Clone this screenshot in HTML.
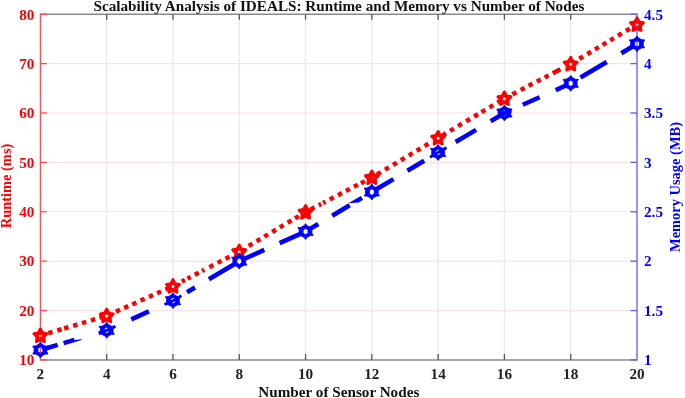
<!DOCTYPE html>
<html><head><meta charset="utf-8"><title>Scalability Analysis of IDEALS</title>
<style>
html,body{margin:0;padding:0;background:#fff;}
body{width:685px;height:398px;overflow:hidden;}
svg{display:block;filter:blur(0.35px);}
text{font-family:"Liberation Serif","Times New Roman",serif;font-weight:bold;}
.tk{font-size:15.2px;}
.lb{font-size:15.2px;}
.yl{font-size:14.45px;}
</style></head><body>
<svg width="685" height="398" viewBox="0 0 685 398">
<rect width="685" height="398" fill="#fff"/>

<g stroke="#eaeaea" stroke-width="1.3">
<line x1="106.69" y1="14.2" x2="106.69" y2="359.95"/>
<line x1="172.98" y1="14.2" x2="172.98" y2="359.95"/>
<line x1="239.27" y1="14.2" x2="239.27" y2="359.95"/>
<line x1="305.56" y1="14.2" x2="305.56" y2="359.95"/>
<line x1="371.84" y1="14.2" x2="371.84" y2="359.95"/>
<line x1="438.13" y1="14.2" x2="438.13" y2="359.95"/>
<line x1="504.42" y1="14.2" x2="504.42" y2="359.95"/>
<line x1="570.71" y1="14.2" x2="570.71" y2="359.95"/>
</g>
<g stroke="#ffe1e1" stroke-width="1.2">
<line x1="40.4" y1="310.56" x2="637.0" y2="310.56"/>
<line x1="40.4" y1="261.16" x2="637.0" y2="261.16"/>
<line x1="40.4" y1="211.77" x2="637.0" y2="211.77"/>
<line x1="40.4" y1="162.38" x2="637.0" y2="162.38"/>
<line x1="40.4" y1="112.99" x2="637.0" y2="112.99"/>
<line x1="40.4" y1="63.59" x2="637.0" y2="63.59"/>
</g>
<g stroke="#8a8a8a" stroke-width="1.6">
<line x1="40.4" y1="14.2" x2="637.0" y2="14.2"/><line x1="40.4" y1="359.95" x2="637.0" y2="359.95"/>
</g>
<g stroke="#555" stroke-width="1.3">
<line x1="106.69" y1="14.2" x2="106.69" y2="19.799999999999997"/><line x1="106.69" y1="359.95" x2="106.69" y2="353.95"/>
<line x1="172.98" y1="14.2" x2="172.98" y2="19.799999999999997"/><line x1="172.98" y1="359.95" x2="172.98" y2="353.95"/>
<line x1="239.27" y1="14.2" x2="239.27" y2="19.799999999999997"/><line x1="239.27" y1="359.95" x2="239.27" y2="353.95"/>
<line x1="305.56" y1="14.2" x2="305.56" y2="19.799999999999997"/><line x1="305.56" y1="359.95" x2="305.56" y2="353.95"/>
<line x1="371.84" y1="14.2" x2="371.84" y2="19.799999999999997"/><line x1="371.84" y1="359.95" x2="371.84" y2="353.95"/>
<line x1="438.13" y1="14.2" x2="438.13" y2="19.799999999999997"/><line x1="438.13" y1="359.95" x2="438.13" y2="353.95"/>
<line x1="504.42" y1="14.2" x2="504.42" y2="19.799999999999997"/><line x1="504.42" y1="359.95" x2="504.42" y2="353.95"/>
<line x1="570.71" y1="14.2" x2="570.71" y2="19.799999999999997"/><line x1="570.71" y1="359.95" x2="570.71" y2="353.95"/>
</g>
<g stroke="#ff4d4d" stroke-width="1.3">
<line x1="40.4" y1="13.6" x2="40.4" y2="360.55"/>
<line x1="40.4" y1="359.95" x2="46.9" y2="359.95"/>
<line x1="40.4" y1="310.56" x2="46.9" y2="310.56"/>
<line x1="40.4" y1="261.16" x2="46.9" y2="261.16"/>
<line x1="40.4" y1="211.77" x2="46.9" y2="211.77"/>
<line x1="40.4" y1="162.38" x2="46.9" y2="162.38"/>
<line x1="40.4" y1="112.99" x2="46.9" y2="112.99"/>
<line x1="40.4" y1="63.59" x2="46.9" y2="63.59"/>
<line x1="40.4" y1="14.20" x2="46.9" y2="14.20"/>
</g>
<g stroke="#5c5cff" stroke-width="1.3">
<line x1="637.0" y1="13.6" x2="637.0" y2="360.55"/>
<line x1="637.0" y1="359.95" x2="630.5" y2="359.95"/>
<line x1="637.0" y1="310.56" x2="630.5" y2="310.56"/>
<line x1="637.0" y1="261.16" x2="630.5" y2="261.16"/>
<line x1="637.0" y1="211.77" x2="630.5" y2="211.77"/>
<line x1="637.0" y1="162.38" x2="630.5" y2="162.38"/>
<line x1="637.0" y1="112.99" x2="630.5" y2="112.99"/>
<line x1="637.0" y1="63.59" x2="630.5" y2="63.59"/>
<line x1="637.0" y1="14.20" x2="630.5" y2="14.20"/>
</g>
<g class="tk" fill="#ff0000" text-anchor="end">
<text x="34.4" y="365.25">10</text>
<text x="34.4" y="315.86">20</text>
<text x="34.4" y="266.46">30</text>
<text x="34.4" y="217.07">40</text>
<text x="34.4" y="167.68">50</text>
<text x="34.4" y="118.29">60</text>
<text x="34.4" y="68.89">70</text>
<text x="34.4" y="19.50">80</text>
</g>
<g class="tk" fill="#0000ff" text-anchor="start">
<text x="644.0" y="365.25">1</text>
<text x="644.0" y="315.86">1.5</text>
<text x="644.0" y="266.46">2</text>
<text x="644.0" y="217.07">2.5</text>
<text x="644.0" y="167.68">3</text>
<text x="644.0" y="118.29">3.5</text>
<text x="644.0" y="68.89">4</text>
<text x="644.0" y="19.50">4.5</text>
</g>
<g class="tk" fill="#222" text-anchor="middle">
<text x="40.40" y="379">2</text>
<text x="106.69" y="379">4</text>
<text x="172.98" y="379">6</text>
<text x="239.27" y="379">8</text>
<text x="305.56" y="379">10</text>
<text x="371.84" y="379">12</text>
<text x="438.13" y="379">14</text>
<text x="504.42" y="379">16</text>
<text x="570.71" y="379">18</text>
<text x="637.00" y="379">20</text>
</g>
<text class="lb" fill="#111" text-anchor="middle" x="338.9" y="10.9">Scalability Analysis of IDEALS: Runtime and Memory vs Number of Nodes</text>
<text class="lb" fill="#111" text-anchor="middle" x="338.8" y="396.6">Number of Sensor Nodes</text>
<text class="yl" fill="#ff0000" text-anchor="middle" transform="translate(10.7,186) rotate(-90)">Runtime (ms)</text>
<text class="yl" fill="#0000ff" text-anchor="middle" transform="translate(680.1,187) rotate(-90)">Memory Usage (MB)</text>
<g stroke="#ff0000" stroke-width="4.5" fill="none">
<line x1="48.24" y1="333.22" x2="52.56" y2="331.93"/>
<line x1="57.34" y1="330.50" x2="61.66" y2="329.22"/>
<line x1="64.14" y1="328.48" x2="68.46" y2="327.19"/>
<line x1="73.14" y1="325.79" x2="77.46" y2="324.51"/>
<line x1="81.94" y1="323.17" x2="86.26" y2="321.89"/>
<line x1="90.94" y1="320.49" x2="95.26" y2="319.20"/>
<line x1="99.44" y1="317.96" x2="103.76" y2="316.67"/>
<line x1="115.95" y1="311.66" x2="120.05" y2="309.82"/>
<line x1="124.15" y1="307.99" x2="128.25" y2="306.16"/>
<line x1="132.35" y1="304.33" x2="136.45" y2="302.49"/>
<line x1="140.55" y1="300.66" x2="144.65" y2="298.82"/>
<line x1="148.95" y1="296.90" x2="153.05" y2="295.07"/>
<line x1="157.05" y1="293.28" x2="161.15" y2="291.45"/>
<line x1="165.35" y1="289.57" x2="169.45" y2="287.74"/>
<line x1="181.80" y1="281.56" x2="185.00" y2="279.89"/>
<line x1="187.50" y1="278.58" x2="190.70" y2="276.92"/>
<line x1="194.81" y1="274.78" x2="198.79" y2="272.69"/>
<line x1="202.05" y1="271.00" x2="204.35" y2="269.80"/>
<line x1="209.41" y1="267.16" x2="213.39" y2="265.08"/>
<line x1="217.61" y1="262.88" x2="221.59" y2="260.80"/>
<line x1="225.51" y1="258.76" x2="229.49" y2="256.68"/>
<line x1="248.67" y1="245.98" x2="252.53" y2="243.68"/>
<line x1="256.57" y1="241.27" x2="260.43" y2="238.97"/>
<line x1="264.27" y1="236.68" x2="268.13" y2="234.38"/>
<line x1="272.17" y1="231.97" x2="276.03" y2="229.67"/>
<line x1="279.77" y1="227.44" x2="283.63" y2="225.14"/>
<line x1="287.67" y1="222.73" x2="291.53" y2="220.43"/>
<line x1="294.97" y1="218.38" x2="298.83" y2="216.08"/>
<line x1="302.77" y1="213.73" x2="306.63" y2="211.43"/>
<line x1="310.61" y1="209.44" x2="314.59" y2="207.36"/>
<line x1="318.76" y1="205.18" x2="321.24" y2="203.89"/>
<line x1="323.06" y1="202.94" x2="325.54" y2="201.65"/>
<line x1="329.81" y1="199.42" x2="333.79" y2="197.34"/>
<line x1="338.01" y1="195.15" x2="341.99" y2="193.07"/>
<line x1="345.91" y1="191.03" x2="349.89" y2="188.94"/>
<line x1="353.91" y1="186.85" x2="357.89" y2="184.77"/>
<line x1="360.91" y1="183.20" x2="364.89" y2="181.12"/>
<line x1="368.71" y1="179.13" x2="372.69" y2="177.05"/>
<line x1="376.97" y1="174.44" x2="380.83" y2="172.14"/>
<line x1="384.97" y1="169.67" x2="388.83" y2="167.37"/>
<line x1="392.97" y1="164.91" x2="396.83" y2="162.60"/>
<line x1="400.87" y1="160.20" x2="404.73" y2="157.89"/>
<line x1="408.77" y1="155.49" x2="412.63" y2="153.18"/>
<line x1="416.67" y1="150.78" x2="420.53" y2="148.47"/>
<line x1="424.57" y1="146.07" x2="428.43" y2="143.76"/>
<line x1="442.17" y1="135.58" x2="446.03" y2="133.27"/>
<line x1="450.07" y1="130.87" x2="453.93" y2="128.56"/>
<line x1="458.07" y1="126.10" x2="461.93" y2="123.80"/>
<line x1="466.17" y1="121.27" x2="470.03" y2="118.97"/>
<line x1="474.17" y1="116.50" x2="478.03" y2="114.20"/>
<line x1="481.47" y1="112.15" x2="485.33" y2="109.85"/>
<line x1="489.47" y1="107.38" x2="493.33" y2="105.08"/>
<line x1="497.37" y1="102.67" x2="501.23" y2="100.37"/>
<line x1="512.41" y1="94.30" x2="516.39" y2="92.22"/>
<line x1="520.71" y1="89.98" x2="524.69" y2="87.89"/>
<line x1="528.61" y1="85.85" x2="532.59" y2="83.77"/>
<line x1="536.81" y1="81.58" x2="540.79" y2="79.50"/>
<line x1="544.71" y1="77.46" x2="548.69" y2="75.38"/>
<line x1="552.79" y1="73.24" x2="560.41" y2="69.26"/>
<line x1="579.27" y1="58.79" x2="583.13" y2="56.49"/>
<line x1="587.27" y1="54.02" x2="591.13" y2="51.72"/>
<line x1="594.97" y1="49.43" x2="598.83" y2="47.13"/>
<line x1="602.57" y1="44.90" x2="606.43" y2="42.60"/>
<line x1="610.17" y1="40.37" x2="614.03" y2="38.07"/>
<line x1="617.97" y1="35.72" x2="621.83" y2="33.42"/>
<line x1="625.97" y1="30.96" x2="629.83" y2="28.65"/>
</g>
<g fill="#ff0000" stroke="#ff0000" stroke-width="3.0" stroke-linejoin="round" fill-rule="evenodd">
<path d="M40.40,329.05 L42.47,333.04 L46.83,333.82 L43.76,337.07 L44.37,341.54 L40.40,339.55 L36.43,341.54 L37.04,337.07 L33.97,333.82 L38.33,333.04Z M40.40,332.15 L42.07,333.61 L43.94,334.78 L43.10,336.85 L42.59,339.03 L40.40,338.85 L38.21,339.03 L37.70,336.85 L36.86,334.78 L38.73,333.61Z"/>
<path d="M106.69,309.30 L108.76,313.28 L113.12,314.06 L110.04,317.31 L110.66,321.78 L106.69,319.80 L102.71,321.78 L103.33,317.31 L100.26,314.06 L104.62,313.28Z M106.69,312.40 L108.36,313.85 L110.23,315.02 L109.39,317.09 L108.88,319.27 L106.69,319.10 L104.50,319.27 L103.99,317.09 L103.15,315.02 L105.02,313.85Z"/>
<path d="M172.98,279.66 L175.05,283.65 L179.41,284.43 L176.33,287.67 L176.95,292.14 L172.98,290.16 L169.00,292.14 L169.62,287.67 L166.55,284.43 L170.90,283.65Z M172.98,282.76 L174.65,284.21 L176.52,285.39 L175.68,287.46 L175.17,289.63 L172.98,289.46 L170.79,289.63 L170.27,287.46 L169.44,285.39 L171.31,284.21Z"/>
<path d="M239.27,245.09 L241.34,249.07 L245.70,249.85 L242.62,253.10 L243.24,257.57 L239.27,255.59 L235.29,257.57 L235.91,253.10 L232.84,249.85 L237.19,249.07Z M239.27,248.19 L240.94,249.64 L242.81,250.81 L241.97,252.88 L241.46,255.06 L239.27,254.89 L237.08,255.06 L236.56,252.88 L235.72,250.81 L237.60,249.64Z"/>
<path d="M305.56,205.57 L307.63,209.56 L311.99,210.34 L308.91,213.58 L309.53,218.05 L305.56,216.07 L301.58,218.05 L302.20,213.58 L299.12,210.34 L303.48,209.56Z M305.56,208.67 L307.23,210.13 L309.10,211.30 L308.26,213.37 L307.74,215.55 L305.56,215.37 L303.37,215.55 L302.85,213.37 L302.01,211.30 L303.89,210.13Z"/>
<path d="M371.84,171.00 L373.92,174.98 L378.28,175.76 L375.20,179.01 L375.82,183.48 L371.84,181.50 L367.87,183.48 L368.49,179.01 L365.41,175.76 L369.77,174.98Z M371.84,174.10 L373.51,175.55 L375.39,176.72 L374.55,178.79 L374.03,180.97 L371.84,180.80 L369.66,180.97 L369.14,178.79 L368.30,176.72 L370.17,175.55Z"/>
<path d="M438.13,131.48 L440.21,135.47 L444.56,136.25 L441.49,139.49 L442.11,143.96 L438.13,141.98 L434.16,143.96 L434.78,139.49 L431.70,136.25 L436.06,135.47Z M438.13,134.58 L439.80,136.04 L441.68,137.21 L440.84,139.28 L440.32,141.46 L438.13,141.28 L435.94,141.46 L435.43,139.28 L434.59,137.21 L436.46,136.04Z"/>
<path d="M504.42,91.97 L506.50,95.96 L510.85,96.74 L507.78,99.98 L508.40,104.45 L504.42,102.47 L500.45,104.45 L501.07,99.98 L497.99,96.74 L502.35,95.96Z M504.42,95.07 L506.09,96.52 L507.96,97.69 L507.13,99.76 L506.61,101.94 L504.42,101.77 L502.23,101.94 L501.72,99.76 L500.88,97.69 L502.75,96.52Z"/>
<path d="M570.71,57.39 L572.78,61.38 L577.14,62.16 L574.07,65.41 L574.69,69.88 L570.71,67.89 L566.74,69.88 L567.36,65.41 L564.28,62.16 L568.64,61.38Z M570.71,60.49 L572.38,61.95 L574.25,63.12 L573.41,65.19 L572.90,67.37 L570.71,67.19 L568.52,67.37 L568.01,65.19 L567.17,63.12 L569.04,61.95Z"/>
<path d="M637.00,17.88 L639.07,21.87 L643.43,22.65 L640.36,25.89 L640.97,30.36 L637.00,28.38 L633.03,30.36 L633.64,25.89 L630.57,22.65 L634.93,21.87Z M637.00,20.98 L638.67,22.43 L640.54,23.60 L639.70,25.67 L639.19,27.85 L637.00,27.68 L634.81,27.85 L634.30,25.67 L633.46,23.60 L635.33,22.43Z"/>
</g>
<g stroke="#0000ff" stroke-width="4.6" fill="none">
<polyline points="42.50,349.45 57.70,344.92"/>
<polyline points="63.60,343.16 74.50,339.91"/>
<polyline stroke-width="2.8" points="98.50,332.75 106.69,330.31 115.50,326.38"/>
<polyline points="131.30,319.31 148.90,311.44"/>
<polyline stroke-width="2.8" points="164.50,304.47 172.98,300.68 181.50,295.60"/>
<polyline points="187.00,292.32 195.00,287.55"/>
<polyline points="208.90,279.27 235.50,263.41"/>
<polyline points="243.50,259.27 264.30,249.97"/>
<polyline points="279.60,243.13 301.50,233.34"/>
<polyline points="310.00,228.88 318.30,223.93"/>
<polyline points="332.20,215.65 349.70,205.21"/>
<polyline points="376.00,189.54 393.50,179.11"/>
<polyline points="407.40,170.82 424.20,160.81"/>
<polyline stroke-width="2.8" points="430.00,157.35 438.13,152.50 446.50,147.51"/>
<polyline points="455.60,142.09 476.10,129.87"/>
<polyline points="490.70,121.17 504.42,112.99 511.00,110.04"/>
<polyline points="522.80,104.77 539.60,97.26"/>
<polyline points="555.70,90.06 566.50,85.23"/>
<polyline points="580.50,77.51 606.70,61.90"/>
<polyline points="621.30,53.19 633.00,46.22"/>
</g>
<polygon fill="#0000ff" points="75.10,341.92 81.70,339.95 81.47,339.19 74.53,340.00"/>
<polygon fill="#0000ff" points="348.32,203.36 360.82,195.91 363.18,199.86 358.68,202.54"/>
<g fill="#0000ff" stroke="#0000ff" stroke-width="0.9" stroke-linejoin="round" fill-rule="evenodd">
<path d="M40.40,342.17 L41.89,344.32 L45.23,346.05 L48.06,346.12 L46.72,348.35 L46.72,351.80 L48.06,354.02 L45.23,354.10 L41.89,355.82 L40.40,357.97 L38.91,355.82 L35.57,354.10 L32.74,354.02 L34.08,351.80 L34.08,348.35 L32.74,346.12 L35.57,346.05 L38.91,344.32Z M40.40,346.57 L41.57,347.82 L43.13,348.32 L42.74,350.07 L43.13,351.82 L41.57,352.32 L40.40,353.57 L39.23,352.32 L37.67,351.82 L38.06,350.07 L37.67,348.32 L39.23,347.82Z"/>
<path d="M106.69,322.41 L108.18,324.57 L111.52,326.29 L114.35,326.36 L113.01,328.59 L113.01,332.04 L114.35,334.26 L111.52,334.34 L108.18,336.06 L106.69,338.21 L105.20,336.06 L101.86,334.34 L99.03,334.26 L100.37,332.04 L100.37,328.59 L99.03,326.36 L101.86,326.29 L105.20,324.57Z M106.69,326.81 L107.86,328.06 L109.42,328.56 L109.03,330.31 L109.42,332.06 L107.86,332.57 L106.69,333.81 L105.52,332.57 L103.96,332.06 L104.35,330.31 L103.96,328.56 L105.52,328.06Z"/>
<path d="M172.98,292.78 L174.46,294.93 L177.81,296.65 L180.64,296.73 L179.30,298.95 L179.30,302.40 L180.64,304.63 L177.81,304.70 L174.46,306.43 L172.98,308.58 L171.49,306.43 L168.14,304.70 L165.32,304.63 L166.66,302.40 L166.66,298.95 L165.32,296.73 L168.14,296.65 L171.49,294.93Z M172.98,297.18 L174.15,298.43 L175.71,298.93 L175.32,300.68 L175.71,302.43 L174.15,302.93 L172.98,304.18 L171.81,302.93 L170.25,302.43 L170.64,300.68 L170.25,298.93 L171.81,298.43Z"/>
<path d="M239.27,253.26 L240.75,255.42 L244.10,257.14 L246.93,257.21 L245.59,259.44 L245.59,262.89 L246.93,265.11 L244.10,265.19 L240.75,266.91 L239.27,269.06 L237.78,266.91 L234.43,265.19 L231.60,265.11 L232.95,262.89 L232.95,259.44 L231.60,257.21 L234.43,257.14 L237.78,255.42Z M239.27,257.66 L240.44,258.91 L241.99,259.41 L241.61,261.16 L241.99,262.91 L240.44,263.42 L239.27,264.66 L238.10,263.42 L236.54,262.91 L236.93,261.16 L236.54,259.41 L238.10,258.91Z"/>
<path d="M305.56,223.63 L307.04,225.78 L310.39,227.50 L313.22,227.58 L311.87,229.80 L311.87,233.25 L313.22,235.48 L310.39,235.55 L307.04,237.28 L305.56,239.43 L304.07,237.28 L300.72,235.55 L297.89,235.48 L299.24,233.25 L299.24,229.80 L297.89,227.58 L300.72,227.50 L304.07,225.78Z M305.56,228.03 L306.73,229.28 L308.28,229.78 L307.90,231.53 L308.28,233.28 L306.73,233.78 L305.56,235.03 L304.39,233.78 L302.83,233.28 L303.22,231.53 L302.83,229.78 L304.39,229.28Z"/>
<path d="M371.84,184.11 L373.33,186.27 L376.68,187.99 L379.51,188.06 L378.16,190.29 L378.16,193.74 L379.51,195.96 L376.68,196.04 L373.33,197.76 L371.84,199.91 L370.36,197.76 L367.01,196.04 L364.18,195.96 L365.53,193.74 L365.53,190.29 L364.18,188.06 L367.01,187.99 L370.36,186.27Z M371.84,188.51 L373.01,189.76 L374.57,190.26 L374.18,192.01 L374.57,193.76 L373.01,194.27 L371.84,195.51 L370.67,194.27 L369.12,193.76 L369.50,192.01 L369.12,190.26 L370.67,189.76Z"/>
<path d="M438.13,144.60 L439.62,146.75 L442.97,148.48 L445.80,148.55 L444.45,150.78 L444.45,154.22 L445.80,156.45 L442.97,156.52 L439.62,158.25 L438.13,160.40 L436.65,158.25 L433.30,156.52 L430.47,156.45 L431.81,154.22 L431.81,150.78 L430.47,148.55 L433.30,148.48 L436.65,146.75Z M438.13,149.00 L439.30,150.25 L440.86,150.75 L440.47,152.50 L440.86,154.25 L439.30,154.75 L438.13,156.00 L436.96,154.75 L435.41,154.25 L435.79,152.50 L435.41,150.75 L436.96,150.25Z"/>
<path d="M504.42,105.09 L505.91,107.24 L509.26,108.96 L512.08,109.04 L510.74,111.26 L510.74,114.71 L512.08,116.94 L509.26,117.01 L505.91,118.73 L504.42,120.89 L502.94,118.73 L499.59,117.01 L496.76,116.94 L498.10,114.71 L498.10,111.26 L496.76,109.04 L499.59,108.96 L502.94,107.24Z M504.42,109.49 L505.59,110.73 L507.15,111.24 L506.76,112.99 L507.15,114.74 L505.59,115.24 L504.42,116.49 L503.25,115.24 L501.69,114.74 L502.08,112.99 L501.69,111.24 L503.25,110.73Z"/>
<path d="M570.71,75.45 L572.20,77.60 L575.54,79.33 L578.37,79.40 L577.03,81.63 L577.03,85.07 L578.37,87.30 L575.54,87.37 L572.20,89.10 L570.71,91.25 L569.22,89.10 L565.88,87.37 L563.05,87.30 L564.39,85.07 L564.39,81.63 L563.05,79.40 L565.88,79.33 L569.22,77.60Z M570.71,79.85 L571.88,81.10 L573.44,81.60 L573.05,83.35 L573.44,85.10 L571.88,85.60 L570.71,86.85 L569.54,85.60 L567.98,85.10 L568.37,83.35 L567.98,81.60 L569.54,81.10Z"/>
<path d="M637.00,35.94 L638.49,38.09 L641.83,39.81 L644.66,39.89 L643.32,42.11 L643.32,45.56 L644.66,47.79 L641.83,47.86 L638.49,49.58 L637.00,51.74 L635.51,49.58 L632.17,47.86 L629.34,47.79 L630.68,45.56 L630.68,42.11 L629.34,39.89 L632.17,39.81 L635.51,38.09Z M637.00,40.34 L638.17,41.58 L639.73,42.09 L639.34,43.84 L639.73,45.59 L638.17,46.09 L637.00,47.34 L635.83,46.09 L634.27,45.59 L634.66,43.84 L634.27,42.09 L635.83,41.58Z"/>
</g>
</svg></body></html>
